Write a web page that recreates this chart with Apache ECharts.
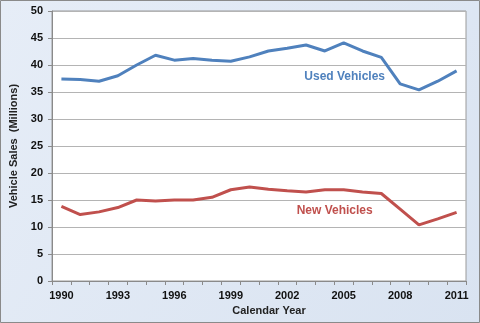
<!DOCTYPE html>
<html>
<head>
<meta charset="utf-8">
<style>
  html, body { margin: 0; padding: 0; }
  #chart { width: 480px; height: 323px; }
</style>
<script src="https://cdn.jsdelivr.net/npm/echarts@6/dist/echarts.min.js"></script>
</head>
<body>
<div id="chart"></div>
<script>
// Calendar years on the x axis
const years = ['1990','1991','1992','1993','1994','1995','1996','1997','1998','1999','2000',
               '2001','2002','2003','2004','2005','2006','2007','2008','2009','2010','2011'];

// Annual vehicle sales, millions
const usedVehicles = [37.4, 37.3, 37.0, 38.0, 40.0, 41.8, 40.9, 41.2, 40.9, 40.7, 41.5,
                      42.6, 43.1, 43.7, 42.6, 44.1, 42.6, 41.4, 36.5, 35.4, 37.0, 38.9];
const newVehicles  = [13.8, 12.3, 12.8, 13.6, 15.0, 14.8, 15.0, 15.0, 15.5, 16.9, 17.4,
                      17.0, 16.7, 16.5, 16.9, 16.9, 16.5, 16.2, 13.3, 10.4, 11.5, 12.7];

// Where the series names sit inside the plot
const usedLabelAt = ['2005', 37.8];
const newLabelAt  = ['2005', 13.0];

const FONT = '"Liberation Sans", Arial, sans-serif';

const chart = echarts.init(document.getElementById('chart'), null, { renderer: 'canvas' });

function seriesLabel(name, at, color, dx) {
  return {
    symbol: 'circle',
    symbolSize: 2,
    silent: true,
    itemStyle: { color: 'rgba(0,0,0,0)' },
    label: {
      show: true,
      formatter: name,
      position: 'inside',
      offset: [dx, 0],
      color: color,
      fontFamily: FONT,
      fontWeight: 'bold',
      fontSize: 12
    },
    data: [{ coord: at }]
  };
}

chart.setOption({
  animation: false,
  backgroundColor: {
    type: 'linear', x: 0, y: 0, x2: 1, y2: 1,
    colorStops: [{ offset: 0, color: '#e6edf7' }, { offset: 1, color: '#d9e3f1' }]
  },
  graphic: [{
    type: 'rect',
    shape: { x: 0.5, y: 0.5, width: 479, height: 322 },
    style: { fill: 'none', stroke: '#8a8a8a', lineWidth: 1 },
    silent: true
  }],
  grid: {
    left: 52, right: 14, top: 11, bottom: 42,
    show: true,
    backgroundColor: '#ffffff',
    borderColor: '#9a9a9a',
    borderWidth: 1
  },
  xAxis: {
    type: 'category',
    data: years,
    boundaryGap: true,
    name: 'Calendar Year',
    nameLocation: 'middle',
    nameGap: 19,
    nameTextStyle: { fontFamily: FONT, fontWeight: 'bold', fontSize: 11, color: '#222', padding: [0, 0, 0, 20] },
    axisLine: { lineStyle: { color: '#8a8a8a' } },
    axisTick: { show: true, interval: 0, length: 4, lineStyle: { color: '#8a8a8a' } },
    axisLabel: { interval: 2, fontFamily: FONT, fontWeight: 'bold', fontSize: 11, color: '#111', margin: 9 },
    splitLine: { show: false }
  },
  yAxis: {
    type: 'value',
    min: 0, max: 50, interval: 5,
    name: 'Vehicle Sales  (Millions)',
    nameLocation: 'middle',
    nameGap: 30,
    nameTextStyle: { fontFamily: FONT, fontWeight: 'bold', fontSize: 11, color: '#222' },
    axisLine: { show: true, lineStyle: { color: '#8a8a8a' } },
    axisTick: { show: true, length: 4, lineStyle: { color: '#8a8a8a' } },
    axisLabel: { fontFamily: FONT, fontWeight: 'bold', fontSize: 11, color: '#111', margin: 9 },
    splitLine: { show: true, lineStyle: { color: '#b4b4b4', width: 1 } }
  },
  series: [
    {
      name: 'Used Vehicles',
      type: 'line',
      data: usedVehicles,
      symbol: 'none',
      lineStyle: { color: '#4f81bd', width: 3 },
      markPoint: seriesLabel('Used Vehicles', usedLabelAt, '#4f81bd', 1)
    },
    {
      name: 'New Vehicles',
      type: 'line',
      data: newVehicles,
      symbol: 'none',
      lineStyle: { color: '#c0504d', width: 3 },
      markPoint: seriesLabel('New Vehicles', newLabelAt, '#c0504d', -9)
    }
  ]
});
</script>
</body>
</html>
